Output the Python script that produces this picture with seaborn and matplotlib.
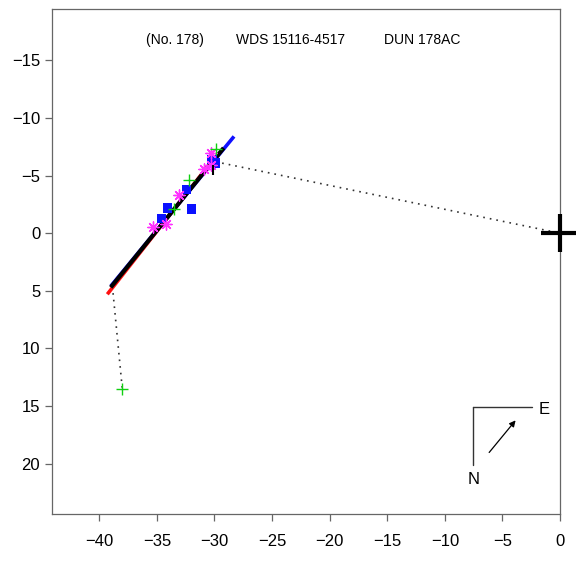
import matplotlib
matplotlib.use("Agg")
import matplotlib.pyplot as plt
import seaborn as sns

sns.set_style("ticks")
plt.rcParams["font.family"] = ["Liberation Sans", "DejaVu Sans"]
plt.rcParams["text.color"] = "black"
plt.rcParams["xtick.labelcolor"] = "black"
plt.rcParams["ytick.labelcolor"] = "black"

# Orbit solutions (x = offset east-west, y = offset north-south)
orbit_black_x = [-39.0, -29.2]
orbit_black_y = [4.7, -7.4]
orbit_blue_x = [-39.0, -28.3]
orbit_blue_y = [4.6, -8.4]
orbit_red_x = [-39.3, -30.5]
orbit_red_y = [5.3, -5.9]

# Measurements
sq_x = [-34.6, -34.1, -32.0, -32.4, -29.9, -30.2]
sq_y = [-1.3, -2.2, -2.1, -3.8, -6.1, -6.4]
ast_x = [-35.3, -34.2, -33.1, -30.9, -30.3, -30.3]
ast_y = [-0.5, -0.8, -3.3, -5.6, -5.9, -7.0]
plus_x = [-32.2, -29.9, -33.5, -38.0]
plus_y = [-4.6, -7.3, -2.1, 13.5]

# Connectors
link1_x = [-29.9, 0.0]
link1_y = [-6.2, 0.0]
link2_x = [-38.8, -38.0]
link2_y = [5.2, 13.5]

tick_x = [-30.1]
tick_y = [-5.5]

primary_x = [0.0]
primary_y = [0.0]

fig = plt.figure(figsize=(5.76, 5.61), dpi=100)
ax = fig.add_axes([0.0903, 0.082, 0.882, 0.904])

sns.lineplot(x=link1_x, y=link1_y, sort=False, ax=ax, color="#333333",
             lw=1.2, linestyle=(0, (1, 3)), zorder=1)
sns.lineplot(x=link2_x, y=link2_y, sort=False, ax=ax, color="#333333",
             lw=1.2, linestyle=(0, (1, 3)), zorder=1)

sns.lineplot(x=orbit_red_x, y=orbit_red_y, sort=False, ax=ax, color="#ff1010",
             lw=2.6, zorder=2, solid_capstyle="butt")
sns.lineplot(x=orbit_blue_x, y=orbit_blue_y, sort=False, ax=ax, color="#1010ff",
             lw=2.6, zorder=3, solid_capstyle="butt")
sns.lineplot(x=orbit_black_x, y=orbit_black_y, sort=False, ax=ax, color="black",
             lw=3.0, zorder=4, solid_capstyle="butt")

sns.scatterplot(x=sq_x, y=sq_y, ax=ax, marker="s", s=45, color="#0a10ff",
                edgecolor="none", zorder=5)
sns.scatterplot(x=ast_x, y=ast_y, ax=ax, marker=(8, 2, 0), s=65, color="#ff33ff",
                linewidth=1.0, zorder=6)
sns.scatterplot(x=plus_x, y=plus_y, ax=ax, marker="+", s=70, color="#10d010",
                linewidth=1.0, zorder=7)
sns.scatterplot(x=tick_x, y=tick_y, ax=ax, marker="|", s=60, color="black",
                linewidth=1.5, zorder=8)

ax.plot(primary_x, primary_y, marker="+", markersize=27, mew=3.0, color="black",
        clip_on=False, zorder=10, linestyle="none")

ax.set_xlim(-44.1, 0)
ax.set_ylim(24.4, -19.5)
ax.set_aspect("equal")
ax.set_xticks([-40, -35, -30, -25, -20, -15, -10, -5, 0])
ax.set_yticks([-15, -10, -5, 0, 5, 10, 15, 20])
ax.set_xticklabels(["\u221240", "\u221235", "\u221230", "\u221225", "\u221220",
                    "\u221215", "\u221210", "\u22125", "0"])
ax.set_yticklabels(["\u221215", "\u221210", "\u22125", "0", "5", "10", "15", "20"])
ax.tick_params(direction="out", length=5, width=0.9, color="#666666",
               labelsize=12, labelcolor="black")
ax.tick_params(axis="x", pad=9)
ax.tick_params(axis="y", pad=3.5)
for s in ax.spines.values():
    s.set_color("#666666")
    s.set_linewidth(0.9)
    s.set_visible(True)

ax.text(0.185, 0.937, "(No. 178)", transform=ax.transAxes, fontsize=10,
        va="center", ha="left", color="black")
ax.text(0.362, 0.937, "WDS 15116-4517", transform=ax.transAxes, fontsize=10,
        va="center", ha="left", color="black")
ax.text(0.654, 0.937, "DUN 178AC", transform=ax.transAxes, fontsize=10,
        va="center", ha="left", color="black")

# Orientation compass
ax.plot([0.828, 0.944], [0.212, 0.212], transform=ax.transAxes, color="#333333", lw=1.0)
ax.plot([0.828, 0.828], [0.212, 0.097], transform=ax.transAxes, color="#333333", lw=1.0)
ax.annotate("", xy=(0.916, 0.190), xytext=(0.857, 0.118), xycoords="axes fraction",
            arrowprops=dict(arrowstyle="-|>", color="black", lw=0.9,
                            mutation_scale=9))
ax.text(0.958, 0.207, "E", transform=ax.transAxes, fontsize=12, va="center",
        ha="left", color="black")
ax.text(0.830, 0.069, "N", transform=ax.transAxes, fontsize=12, va="center",
        ha="center", color="black")

fig.savefig("out.png", dpi=100)
